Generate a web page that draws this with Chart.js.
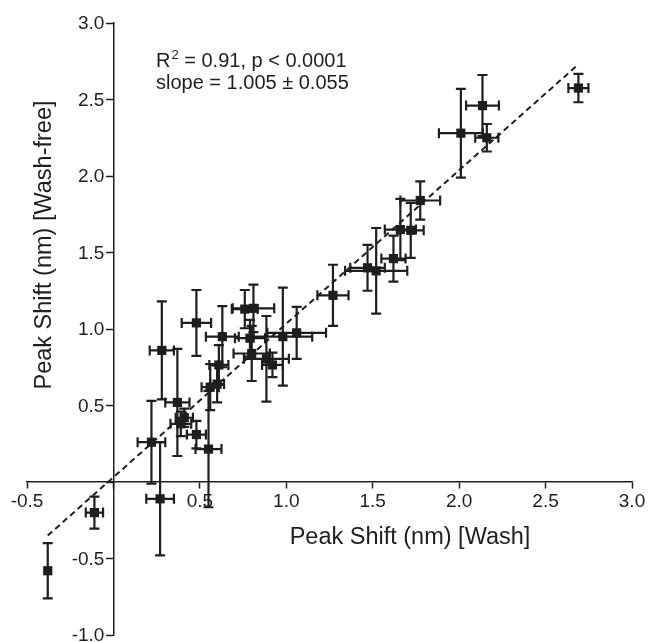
<!DOCTYPE html>
<html>
<head>
<meta charset="utf-8">
<script src="https://cdn.jsdelivr.net/npm/chart.js@4"></script>
<style>
  html, body { margin: 0; padding: 0; background: #fff; overflow: hidden; }
  canvas { display: block; }
</style>
</head>
<body>
<canvas id="peakChart" width="648" height="642"></canvas>
<script>
// peak shift, wash (x) vs wash-free (y), with SEM in both directions
const washX    = [-0.38, -0.11, 0.27, 0.22, 0.28, 0.37, 0.41, 0.39, 0.48, 0.55, 0.56, 0.60, 0.61, 0.63, 0.48, 0.76, 0.81, 0.79, 0.80, 0.885, 0.92, 0.98, 1.06, 1.27, 1.47, 1.52, 1.62, 1.66, 1.72, 1.775, 2.01, 2.135, 2.16, 2.69];
const washFreeY = [-0.58, -0.20, -0.11, 0.26, 0.86, 0.52, 0.42, 0.38, 0.31, 0.215, 0.62, 0.64, 0.765, 0.95, 1.04, 1.13, 1.135, 0.94, 0.84, 0.805, 0.765, 0.95, 0.975, 1.22, 1.40, 1.38, 1.46, 1.65, 1.645, 1.84, 2.28, 2.46, 2.25, 2.575];
const xErr     = [0.0, 0.05, 0.08, 0.08, 0.07, 0.07, 0.05, 0.06, 0.055, 0.075, 0.05, 0.04, 0.055, 0.095, 0.085, 0.075, 0.12, 0.087, 0.105, 0.13, 0.06, 0.17, 0.17, 0.09, 0.10, 0.18, 0.07, 0.09, 0.075, 0.115, 0.127, 0.095, 0.067, 0.058];
const yErr     = [0.18, 0.105, 0.37, 0.27, 0.32, 0.35, 0.06, 0.08, 0.09, 0.38, 0.15, 0.12, 0.13, 0.2, 0.215, 0.125, 0.155, 0.12, 0.18, 0.28, 0.08, 0.32, 0.17, 0.2, 0.15, 0.28, 0.15, 0.2, 0.18, 0.125, 0.29, 0.2, 0.09, 0.093];

// linear fit line ends
const fitX = [-0.38, 2.69];
const fitY = [-0.35, 2.73];

const INK = '#1e1e1e';
const FONT = '"Liberation Sans", Arial, sans-serif';

const errorBars = {
    id: 'errorBars',
    beforeDatasetsDraw(chart) {
        const ctx = chart.ctx;
        const xs = chart.scales.x, ys = chart.scales.y;
        const cap = 5;
        ctx.save();
        ctx.strokeStyle = INK;
        ctx.lineWidth = 2.2;
        washX.forEach((x, i) => {
            const px = xs.getPixelForValue(x);
            const py = ys.getPixelForValue(washFreeY[i]);
            if (yErr[i] > 0) {
                const top = ys.getPixelForValue(washFreeY[i] + yErr[i]);
                const bot = ys.getPixelForValue(washFreeY[i] - yErr[i]);
                ctx.beginPath();
                ctx.moveTo(px, top); ctx.lineTo(px, bot);
                ctx.moveTo(px - cap, top); ctx.lineTo(px + cap, top);
                ctx.moveTo(px - cap, bot); ctx.lineTo(px + cap, bot);
                ctx.stroke();
            }
            if (xErr[i] > 0) {
                const l = xs.getPixelForValue(x - xErr[i]);
                const r = xs.getPixelForValue(x + xErr[i]);
                ctx.beginPath();
                ctx.moveTo(l, py); ctx.lineTo(r, py);
                ctx.moveTo(l, py - cap); ctx.lineTo(l, py + cap);
                ctx.moveTo(r, py - cap); ctx.lineTo(r, py + cap);
                ctx.stroke();
            }
        });
        ctx.restore();
    }
};

const labels = {
    id: 'labels',
    afterDraw(chart) {
        const ctx = chart.ctx;
        const ys = chart.scales.y;
        ctx.save();
        ctx.fillStyle = INK;

        // y tick labels, left of the tick marks
        ctx.font = '19px ' + FONT;
        ctx.textAlign = 'right';
        ctx.textBaseline = 'middle';
        const axisX = chart.scales.x.getPixelForValue(0);
        ys.ticks.forEach(t => {
            const txt = tickLabel(t.value);
            if (txt) ctx.fillText(txt, axisX - 9, ys.getPixelForValue(t.value) + 1);
        });

        // stats text
        ctx.textAlign = 'left';
        ctx.textBaseline = 'alphabetic';
        ctx.font = '20px ' + FONT;
        let x = 156;
        ctx.fillText('R', x, 67);
        x += ctx.measureText('R').width;
        ctx.font = '13px ' + FONT;
        ctx.fillText('2', x + 1, 59);
        x += ctx.measureText('2').width + 1;
        ctx.font = '20px ' + FONT;
        ctx.fillText(' = 0.91, p < 0.0001', x, 67);
        ctx.fillText('slope = 1.005 \u00b1 0.055', 156, 89);

        // axis titles
        ctx.font = '23.5px ' + FONT;
        ctx.textAlign = 'center';
        ctx.textBaseline = 'middle';
        ctx.fillText('Peak Shift (nm) [Wash]', 410, 538);
        ctx.translate(45, 245);
        ctx.rotate(-Math.PI / 2);
        ctx.fillText('Peak Shift (nm) [Wash-free]', 0, 0);
        ctx.restore();
    }
};

function tickLabel(v) {
    return Math.abs(v) < 1e-9 ? '' : v.toFixed(1);
}

new Chart(document.getElementById('peakChart'), {
    type: 'scatter',
    data: {
        datasets: [
            {
                label: 'fit',
                type: 'line',
                data: fitX.map((x, i) => ({ x, y: fitY[i] })),
                borderColor: INK,
                borderWidth: 2,
                borderDash: [6, 4],
                pointRadius: 0,
                fill: false
            },
            {
                label: 'points',
                data: washX.map((x, i) => ({ x, y: washFreeY[i] })),
                pointStyle: 'rect',
                pointRadius: 6.5,
                backgroundColor: INK,
                borderColor: INK,
                borderWidth: 0
            }
        ]
    },
    options: {
        responsive: false,
        animation: false,
        layout: { autoPadding: false, padding: { left: 27, right: 16, top: 23, bottom: 7 } },
        plugins: { legend: { display: false }, tooltip: { enabled: false } },
        scales: {
            x: {
                type: 'linear',
                min: -0.5, max: 3.0,
                position: { y: 0 },
                grid: { drawOnChartArea: false, drawTicks: true, tickLength: 6, color: INK, tickWidth: 1.5 },
                border: { display: true, color: INK, width: 1.5 },
                ticks: { stepSize: 0.5, callback: tickLabel, color: INK, padding: 2, maxRotation: 0, font: { family: FONT, size: 19 } }
            },
            y: {
                type: 'linear',
                min: -1.0, max: 3.0,
                position: { x: 0 },
                grid: { drawOnChartArea: false, drawTicks: true, tickLength: 7, color: INK, tickWidth: 1.5 },
                border: { display: true, color: INK, width: 1.5 },
                ticks: { display: false, stepSize: 0.5 }
            }
        }
    },
    plugins: [errorBars, labels]
});
</script>
</body>
</html>
